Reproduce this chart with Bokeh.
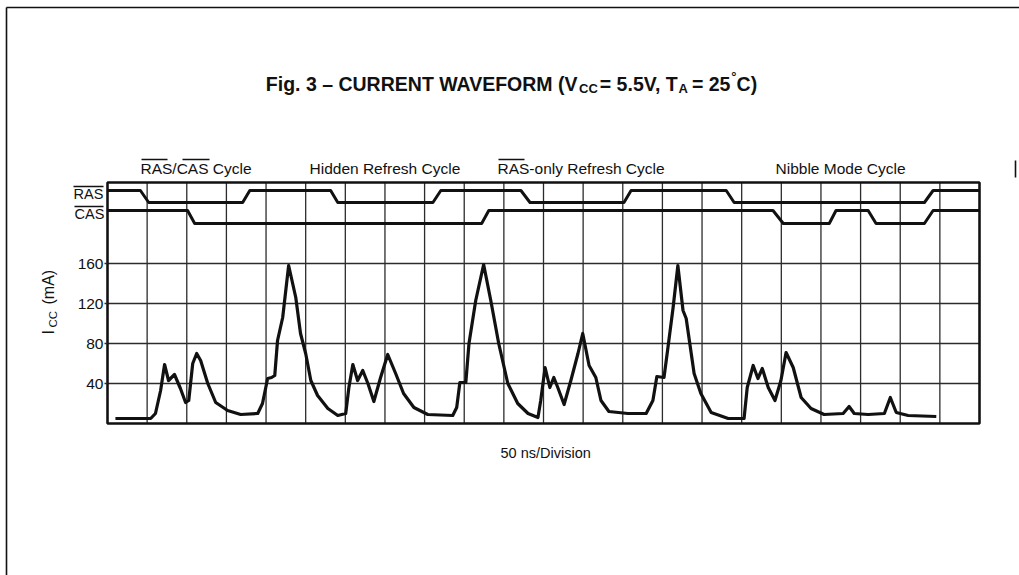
from bokeh.plotting import figure
from bokeh.models import Range1d, FixedTicker, Label
from bokeh.embed import file_html
from bokeh.resources import INLINE

# ---------------- data ----------------
# time axis in divisions (50 ns / division), current in mA
icc_x = [0.20, 1.09, 1.21, 1.34, 1.44, 1.54, 1.69, 1.84, 1.97, 2.05, 2.15, 2.25, 2.35, 2.53, 2.73,
         3.03, 3.36, 3.79, 3.91, 4.04, 4.14, 4.22, 4.29, 4.42, 4.57, 4.75, 4.87, 5.00, 5.13, 5.30,
         5.56, 5.81, 6.01, 6.09, 6.19, 6.31, 6.44, 6.57, 6.72, 6.89, 7.07, 7.27, 7.47, 7.73, 8.08,
         8.71, 8.81, 8.89, 9.04, 9.12, 9.29, 9.49, 9.67, 9.87, 10.10, 10.35, 10.61, 10.86, 10.93,
         11.04, 11.16, 11.26, 11.36, 11.52, 11.69, 11.87, 11.99, 12.15, 12.32, 12.45, 12.65, 13.13,
         13.59, 13.76, 13.86, 14.04, 14.14, 14.27, 14.39, 14.52, 14.60, 14.80, 14.97, 15.23, 15.66,
         16.06, 16.14, 16.29, 16.41, 16.52, 16.67, 16.84, 16.99, 17.12, 17.30, 17.50, 17.75, 18.08,
         18.56, 18.71, 18.84, 19.19, 19.60, 19.75, 19.90, 20.20, 20.91]
icc_ma = [5, 5, 10, 33, 59, 43, 49, 35, 21, 23, 60, 70, 63, 40, 21,
          13, 9, 10, 20, 45, 46, 48, 83, 106, 158, 126, 90, 70, 43, 28,
          15, 8, 10, 36, 59, 43, 53, 40, 22, 46, 69, 50, 30, 16, 9,
          8, 16, 41, 41, 80, 123, 159, 123, 80, 40, 20, 10, 6, 23,
          56, 36, 46, 36, 19, 43, 70, 90, 58, 46, 23, 12, 10,
          10, 23, 47, 46, 76, 116, 158, 113, 105, 50, 30, 11, 5,
          5, 36, 58, 45, 55, 36, 23, 43, 71, 56, 26, 15, 9,
          10, 17, 10, 9, 10, 26, 11, 8, 7]

# logic signals: (time in divisions, level 1 = high / 0 = low)
ras_t = [0, 0.83, 1.04, 3.41, 3.59, 5.63, 5.81, 8.21, 8.41, 10.43, 10.66, 13.03, 13.21,
         15.61, 15.81, 20.61, 20.83, 22]
ras_level = [1, 1, 0, 0, 1, 1, 0, 0, 1, 1, 0, 0, 1, 1, 0, 0, 1, 1]
cas_t = [0, 2.02, 2.20, 9.44, 9.62, 16.79, 17.05, 18.21, 18.38, 19.19, 19.39, 20.61, 20.83, 22]
cas_level = [1, 1, 0, 0, 1, 1, 0, 0, 1, 1, 0, 0, 1, 1]

x_divisions = list(range(0, 23))
y_ticks = [40, 80, 120, 160]
cycle_labels = ["RAS/CAS Cycle", "Hidden Refresh Cycle", "RAS-only Refresh Cycle", "Nibble Mode Cycle"]

# ---------------- layout ----------------
W, H = 1019, 575
FL, FR, FT, FB = 107, 979, 182, 423  # waveform box edges in page pixels
X_DIVS = 22
Y_MAX = 241

RAS_HI, RAS_LO = 233, 221
CAS_HI, CAS_LO = 213, 200

FONT = "Liberation Sans"
INK = "#111111"
GRID = "#2c2c2c"


def dx(X):
    return (X - FL) / (FR - FL) * X_DIVS


def dy(Y):
    return (FB - Y) / (FB - FT) * Y_MAX


p = figure(width=W, height=H, output_backend="svg", toolbar_location=None,
           x_range=Range1d(dx(0), dx(W)), y_range=Range1d(dy(H), dy(0)),
           min_border=0, x_axis_location=None)
p.background_fill_color = "white"
p.border_fill_color = "white"
p.outline_line_color = None
p.xgrid.visible = False
p.ygrid.visible = False

# y axis drawn at the left edge of the waveform box
p.yaxis.fixed_location = 0
p.yaxis.ticker = FixedTicker(ticks=y_ticks)
p.yaxis.axis_line_color = None
p.yaxis.minor_tick_line_color = None
p.yaxis.major_tick_in = 0
p.yaxis.major_tick_out = 3
p.yaxis.major_tick_line_width = 1.3
p.yaxis.major_tick_line_color = GRID
p.yaxis.major_label_standoff = 1
p.yaxis.major_label_text_font = FONT
p.yaxis.major_label_text_font_size = "15.5px"
p.yaxis.major_label_text_color = INK

# grid of the oscilloscope screen
p.segment(x0=x_divisions, y0=[0] * len(x_divisions), x1=x_divisions, y1=[Y_MAX] * len(x_divisions),
          line_color=GRID, line_width=1.3)
p.segment(x0=[0] * len(y_ticks), y0=y_ticks, x1=[X_DIVS] * len(y_ticks), y1=y_ticks,
          line_color=GRID, line_width=1.3)
p.quad(left=[0], right=[X_DIVS], bottom=[0], top=[Y_MAX], fill_color=None,
       line_color=INK, line_width=2.5)

# signals
ras_y = [RAS_LO + l * (RAS_HI - RAS_LO) for l in ras_level]
cas_y = [CAS_LO + l * (CAS_HI - CAS_LO) for l in cas_level]
p.line(ras_t, ras_y, line_width=3, line_color=INK, line_join="round")
p.line(cas_t, cas_y, line_width=3, line_color=INK, line_join="round")
p.line(icc_x, icc_ma, line_width=3.2, line_color=INK, line_join="round")


def label(X, Y, text, size, bold=False, angle=0):
    # Y is the vertical middle of the text in page pixels
    p.add_layout(Label(x=dx(X), y=dy(Y), text=text, text_font=FONT,
                       text_font_size=f"{size}px", text_color=INK,
                       text_font_style="bold" if bold else "normal",
                       text_baseline="middle", text_align="left",
                       angle=angle, angle_units="deg"))


segs = []


def seg(X0, Y0, X1, Y1):
    segs.append((dx(X0), dy(Y0), dx(X1), dy(Y1)))


# ---- title with subscripts (Liberation Sans Bold advance widths, per 1000 em)
BW = {"F": 611, "i": 278, "g": 611, ".": 278, " ": 278, "3": 556, "–": 556, "C": 722, "U": 722,
      "R": 722, "E": 667, "N": 722, "T": 611, "W": 944, "A": 722, "V": 667, "O": 778, "M": 833,
      "(": 333, ")": 333, "=": 584, "5": 556, ",": 278, "2": 556, "°": 400}
TS, SS = 19.5, 13
# (text, size, vertical shift in px (+ = down), gap before in px, kerning correction after)
pieces = [("Fig. 3 – CURRENT WAVEFORM (V", TS, 0, 0, -1),
          ("CC", SS, 5, 0, 0),
          ("= 5.5V, T", TS, 0, 2, -1),
          ("A", SS, 5, 0, 0),
          ("= 25", TS, 0, 4, 0),
          ("°", SS, -7, 1, 0),
          ("C)", TS, 0, 0, 0)]


def pw(s, sz):
    return sum(BW[c] for c in s) / 1000 * sz


total = sum(pw(s, sz) + g + k for s, sz, _, g, k in pieces)
X = 511 - total / 2
TITLE_Y = 83
for s, sz, off, g, k in pieces:
    X += g
    label(X, TITLE_Y + off, s, sz, bold=True)
    X += pw(s, sz) + k

# ---- cycle labels
CS = 15.5
CY = 168
label(140, CY, cycle_labels[0], CS)
label(309, CY, cycle_labels[1], CS)
label(497, CY, cycle_labels[2], CS)
label(775, CY, cycle_labels[3], CS)
seg(141, 159, 167, 159)
seg(182, 159, 209, 159)
seg(498, 159, 524, 159)

# ---- RAS / CAS signal names
label(73, 193, "RAS", 14.5)
label(74, 213, "CAS", 14.5)
seg(73, 186, 103, 186)
seg(74, 206, 103, 206)

# ---- y axis title  I_CC (mA), rotated
label(48, 334, "I", 16, angle=90)
label(52, 327, "CC", 11.5, angle=90)
label(48, 304, "(mA)", 16, angle=90)

# ---- x axis note
label(500, 452, "50 ns/Division", 14.5)

p.segment(x0=[s[0] for s in segs], y0=[s[1] for s in segs], x1=[s[2] for s in segs],
          y1=[s[3] for s in segs], line_color=INK, line_width=1.3)

# ---- scanned page border
p.segment(x0=[dx(6), dx(6), dx(1015)], y0=[dy(7), dy(7), dy(160)],
          x1=[dx(1019), dx(6), dx(1015)], y1=[dy(7), dy(575), dy(177)],
          line_color=INK, line_width=1.6)

open("out.html", "w").write(file_html(p, INLINE))
